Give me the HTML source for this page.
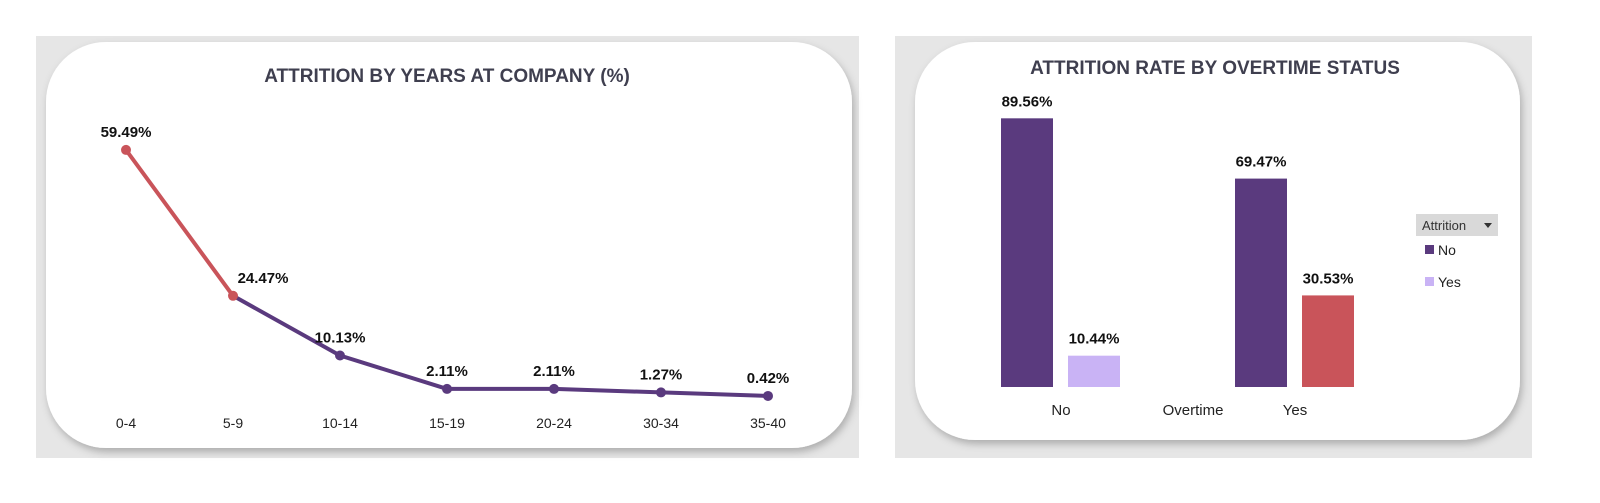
<!DOCTYPE html>
<html><head><meta charset="utf-8"><style>
body{margin:0;width:1600px;height:503px;background:#fff;overflow:hidden;font-family:"Liberation Sans",sans-serif}
svg{position:absolute;left:0;top:0}
</style></head><body>
<svg width="1600" height="503" xmlns="http://www.w3.org/2000/svg">
<defs><filter id="sh" x="-5%" y="-5%" width="110%" height="115%"><feDropShadow dx="2" dy="4" stdDeviation="4" flood-color="#000" flood-opacity="0.25"/></filter></defs>
<rect x="36" y="36" width="823" height="422" fill="#e6e6e6"/>
<rect x="46" y="42" width="806" height="406" rx="60" fill="#fff" filter="url(#sh)"/>
<rect x="895" y="36" width="637" height="422" fill="#e6e6e6"/>
<rect x="915" y="42" width="605" height="398" rx="60" fill="#fff" filter="url(#sh)"/>
<text x="447" y="82" text-anchor="middle" font-size="19" font-weight="bold" fill="#3f3f4f">ATTRITION BY YEARS AT COMPANY (%)</text>
<text x="1215" y="74" text-anchor="middle" font-size="19" font-weight="bold" fill="#3f3f4f">ATTRITION RATE BY OVERTIME STATUS</text>
<g id="line"></g>
<g id="bars"></g>
<rect x="1416" y="214" width="82" height="22" fill="#d9d9d9"/>
<text x="1422" y="230" font-size="13" fill="#333">Attrition</text>
<path d="M1484 223 l8 0 l-4 5 z" fill="#333"/>
<rect x="1425" y="245" width="9" height="9" fill="#5a3a7e"/>
<text x="1438" y="255" font-size="14" fill="#222">No</text>
<rect x="1425" y="277" width="9" height="9" fill="#c9b3f5"/>
<text x="1438" y="287" font-size="14" fill="#222">Yes</text>
<text x="1193" y="415" text-anchor="middle" font-size="15" fill="#222">Overtime</text>
</svg>
<script>
const lineCats=["0-4","5-9","10-14","15-19","20-24","30-34","35-40"];
const lineVals=[59.49,24.47,10.13,2.11,2.11,1.27,0.42];
const barCats=["No","Yes"];
const seriesNo=[89.56,69.47];
const seriesYes=[10.44,30.53];
const NS="http://www.w3.org/2000/svg";
function mk(t,a,p,txt){const e=document.createElementNS(NS,t);for(const k in a)e.setAttribute(k,a[k]);if(txt!==undefined)e.textContent=txt;p.appendChild(e);return e;}
const lx=i=>126+i*(768-126)/(lineCats.length-1);
const ly=v=>397.7-v*4.165;
const lg=document.getElementById('line');
for(let i=0;i<lineVals.length-1;i++){
 const s=mk('line',{x1:lx(i),y1:ly(lineVals[i]),x2:lx(i+1),y2:ly(lineVals[i+1]),stroke:i==0?'#c9545a':'#5a3a7e','stroke-width':4,'stroke-linecap':'round'},lg);
 
 
}
lineVals.forEach((v,i)=>{
 const c=mk('circle',{cx:lx(i),cy:ly(v),r:5,fill:i<2?'#c9545a':'#5a3a7e'},lg);
 
 
 const t=mk('text',{x:lx(i)+(i==0?0:i==1?30:0),y:ly(v)-13,'text-anchor':'middle','font-size':15,'font-weight':'bold',fill:'#111'},lg,v.toFixed(2)+'%');
 
 
 const x=mk('text',{x:lx(i),y:428,'text-anchor':'middle','font-size':14,fill:'#222'},lg,lineCats[i]);
 
 
});
const by=v=>387-v*3.0;
const bg=document.getElementById('bars');
const groupX=[1001,1235];
barCats.forEach((c,i)=>{
 [[seriesNo[i],'#5a3a7e',0],[seriesYes[i],i==0?'#c9b3f5':'#c9545a',67]].forEach(([v,col,off])=>{
  const r=mk('rect',{x:groupX[i]+off,y:by(v),width:52,height:387-by(v),fill:col},bg);
  
  
  const t=mk('text',{x:groupX[i]+off+26,y:by(v)-12,'text-anchor':'middle','font-size':15,'font-weight':'bold',fill:'#111'},bg,v.toFixed(2)+'%');
  
  
 });
 const x=mk('text',{x:groupX[i]+60,y:415,'text-anchor':'middle','font-size':15,fill:'#222'},bg,c);
 
 
});
</script>
</body></html>
